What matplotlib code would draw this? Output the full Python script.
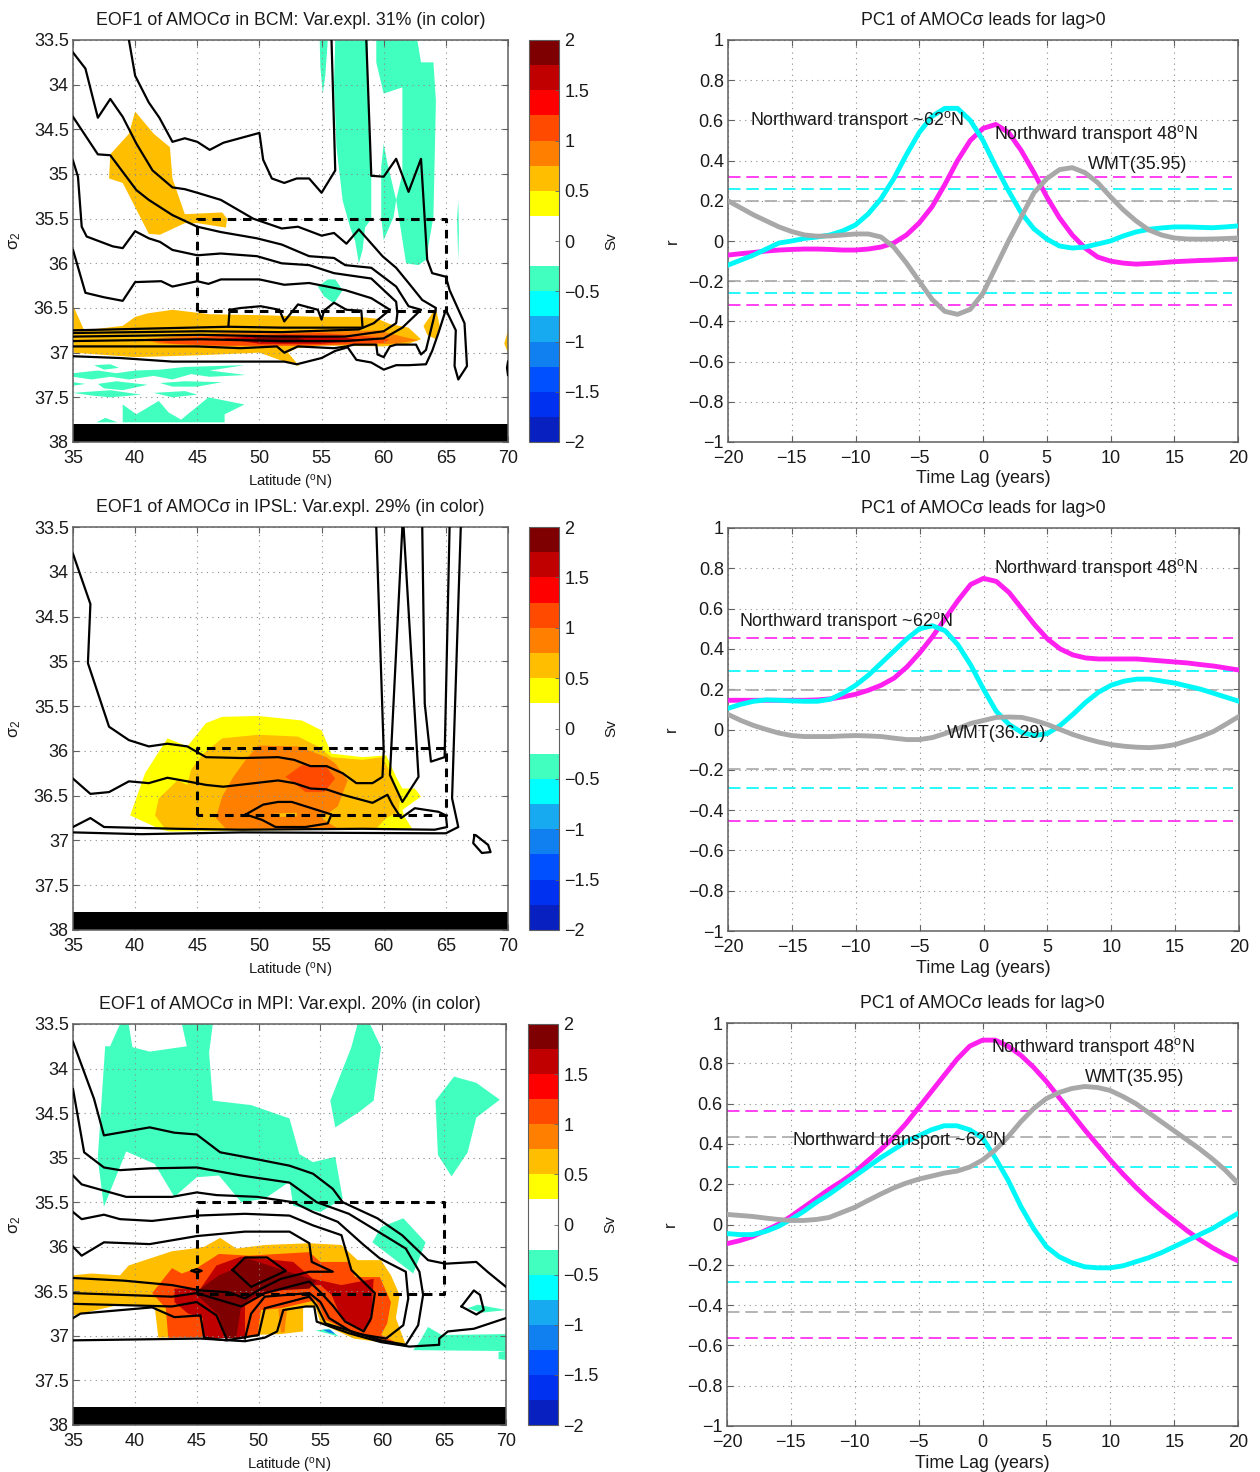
"""
EOF1 of AMOC in density space (left) and lagged correlations of PC1 (right)
"""

import matplotlib
matplotlib.use("Agg")
import matplotlib.pyplot as plt
from matplotlib.cm import ScalarMappable
from matplotlib.colors import BoundaryNorm, ListedColormap

plt.rcParams["font.family"] = ["Liberation Sans", "DejaVu Sans"]
plt.rcParams["mathtext.fontset"] = "custom"
plt.rcParams["mathtext.rm"] = "Liberation Sans"
plt.rcParams["mathtext.it"] = "Liberation Sans"
plt.rcParams["mathtext.default"] = "regular"

# colour levels (Sv)
LEVELS = [-2, -1.75, -1.5, -1.25, -1, -0.75, -0.5, -0.25, 0, 0.25, 0.5, 0.75, 1, 1.25, 1.5, 1.75, 2]
LEVEL_COLORS = ["#0820c0", "#0030f0", "#0050ff", "#1080f0", "#18aaf0", "#00ffff", "#40ffbf", "white",
                "white", "#ffff00", "#ffbf00", "#ff8000", "#ff4a00", "#ff0000", "#c00000", "#7f0000"]
CBAR_TICKS = [-2, -1.5, -1, -0.5, 0, 0.5, 1, 1.5, 2]
LAT_TICKS = [35, 40, 45, 50, 55, 60, 65, 70]
SIGMA_TICKS = [33.5, 34, 34.5, 35, 35.5, 36, 36.5, 37, 37.5, 38]
LAG_TICKS = [-20, -15, -10, -5, 0, 5, 10, 15, 20]
R_TICKS = [-1, -0.8, -0.6, -0.4, -0.2, 0, 0.2, 0.4, 0.6, 0.8, 1]
MASK_SIGMA = [37.8, 38]

# ---- BCM filled areas (lat, sigma)
bcm_orange1 = [(40, 34.3), (39.5, 34.55), (38, 34.78), (37.9, 35.05), (39, 35.1), (41.1, 35.67), (42, 35.68),
               (44, 35.55), (45, 35.55), (47.3, 35.6), (47.4, 35.5), (47, 35.43), (44, 35.45), (43, 35.05),
               (42.8, 34.7), (41.5, 34.55)]
bcm_orange2 = [(35, 36.47), (35.9, 36.75), (39, 36.7), (40, 36.6), (41, 36.56), (43, 36.52), (46, 36.57),
               (50, 36.58), (55, 36.6), (58, 36.6), (59.5, 36.62), (60.5, 36.68), (62, 36.72), (63, 36.85),
               (62, 36.9), (60, 36.93), (55, 36.92), (53, 36.95), (52.3, 37), (53.2, 37.15), (52, 37.1),
               (50, 37), (45, 37.03), (40, 37.05), (37, 37.02), (35, 37)]
bcm_orange3 = [(64.2, 36.5), (64.5, 36.7), (64.2, 36.85), (63.5, 36.8), (63.2, 36.7)]
bcm_orange4 = [(70, 36.75), (69.7, 36.9), (70, 37)]
bcm_dark1 = [(40.5, 36.85), (47, 36.78), (57, 36.76), (59.5, 36.75), (61.5, 36.82), (62.8, 36.86), (61, 36.9),
             (55, 36.92), (47, 36.93), (42, 36.9)]
bcm_dark2 = [(41, 36.86), (47, 36.81), (55, 36.78), (59, 36.82), (60.5, 36.85), (60, 36.89), (54, 36.92),
             (47, 36.92), (43, 36.9)]
bcm_dark3 = [(47, 36.84), (52, 36.8), (56, 36.82), (58.5, 36.86), (55, 36.9), (50, 36.9)]
bcm_dark4 = [(49.5, 36.83), (53, 36.83), (54, 36.87), (52, 36.89), (50, 36.87)]
bcm_green1 = [(54.85, 33.5), (55.5, 33.5), (55.3, 33.9), (55.1, 34.1), (54.9, 33.8)]
bcm_green2 = [(56.1, 33.5), (58.7, 33.5), (58.8, 34.5), (59, 35), (59, 35.5), (58.5, 35.6), (58.3, 35.85),
              (58, 36), (57.7, 35.75), (57.3, 35.6), (56.7, 35.3), (56.2, 34.7), (56, 34)]
bcm_green3 = [(59.4, 33.5), (62.7, 33.5), (63, 33.75), (64, 33.75), (64.2, 34.18), (64, 35.48), (63.4, 35.96),
              (62.8, 36.02), (61.8, 36), (61, 35.29), (60.8, 35.48), (60, 35.74), (59.8, 35.48), (59.8, 34.92),
              (60, 34.66), (60.3, 34.88), (61, 35.29), (61.5, 35), (61.5, 34.55), (61.5, 34.03), (60, 34.1),
              (59.4, 33.75)]
bcm_green4 = [(65.9, 35.5), (66, 35.3), (66.05, 35.65), (66, 35.97)]
bcm_green5 = [(54.7, 36.26), (55.5, 36.18), (56.1, 36.18), (56.7, 36.3), (56, 36.45), (55.2, 36.37)]
bcm_green6 = [(39, 37.78), (39, 37.58), (40.1, 37.69), (41.9, 37.54), (42.7, 37.67), (43.7, 37.75), (45.9, 37.5),
              (48.8, 37.58), (47.2, 37.69), (47.2, 37.78)]
bcm_green7 = [(36.9, 37.78), (37.6, 37.73), (38.6, 37.78)]
bcm_green8 = [(36.7, 37.14), (38, 37.13), (38.7, 37.17), (37.5, 37.19)]
bcm_green9 = [(35, 37.23), (37, 37.2), (38.5, 37.23), (40, 37.2), (42, 37.19), (44, 37.16), (48.8, 37.14),
              (46, 37.2), (48.9, 37.25), (46, 37.27), (44.5, 37.24), (43, 37.3), (41.5, 37.26), (39.5, 37.3),
              (38, 37.27), (36.5, 37.3), (35, 37.27)]
bcm_green10 = [(35, 37.33), (36, 37.35), (35, 37.37)]
bcm_green11 = [(37, 37.35), (38.5, 37.32), (41, 37.36), (39, 37.42), (37.5, 37.4)]
bcm_green12 = [(42, 37.34), (44, 37.32), (47, 37.33), (45, 37.38), (43, 37.38)]
bcm_green13 = [(35, 37.45), (38, 37.42), (40.5, 37.47), (38, 37.5), (36.5, 37.48)]
bcm_green14 = [(41.5, 37.45), (44, 37.43), (45, 37.47), (43, 37.5)]

# ---- BCM contour lines
bcm_line1 = [(39.5, 33.5), (40, 33.9), (41.1, 34.2), (41.95, 34.37), (43, 34.64), (44, 34.6), (45, 34.64), (46, 34.73),
             (47.1, 34.65), (50, 34.54), (50.3, 34.84), (51, 35.05), (52, 35.1), (53, 35.05), (54, 35.05), (55, 35.21),
             (56.1, 34.96), (55.8, 33.5)]
bcm_line2 = [(58.6, 33.5), (59, 35.02), (60, 35.03), (61, 34.83), (62, 35.2), (63, 34.83), (63.5, 35.96), (63.9, 36.11),
             (65, 36.15), (65.3, 36.3), (66.5, 36.67), (66.7, 37.15), (66, 37.3), (65.7, 37.15), (65.8, 36.75), (65, 36.52),
             (64.4, 36.78), (63.9, 36.98), (63.4, 37.13), (62, 37.14), (61, 37.14), (60, 37.19), (59, 37.11), (57.8, 37.08),
             (57.1, 36.94), (56.1, 36.98), (55, 37.06), (53, 37.13), (52, 37.1), (48.5, 37.1), (43, 37.1), (38.8, 37.06),
             (35, 37.04)]
bcm_line3 = [(35, 33.64), (36, 33.82), (37, 34.37), (38, 34.16), (39, 34.36), (40.1, 34.66), (41.4, 34.96), (43, 35.15),
             (44, 35.17), (45, 35.21), (46.9, 35.29), (49.5, 35.5), (51.8, 35.61), (53.1, 35.59), (55, 35.69), (56, 35.66),
             (57, 35.78), (58, 35.62), (59.9, 35.92), (61, 36.05), (62, 36.22), (63.1, 36.41), (64.2, 36.5), (64, 36.63),
             (63.4, 36.97), (63, 37.02), (62.6, 36.91), (61, 36.91), (60.5, 36.93), (60, 37.05), (59.5, 37.02), (59.4, 36.91),
             (57.6, 36.91), (57, 36.93), (56, 36.95), (53.1, 36.93), (52, 37), (51.4, 36.93), (48.5, 36.95), (45, 36.93),
             (35, 36.93)]
bcm_line4 = [(35, 34.36), (37, 34.78), (38, 34.79), (40.1, 35.18), (41.1, 35.29), (43, 35.46), (45, 35.59), (46.9, 35.65),
             (49.8, 35.72), (51.8, 35.79), (54, 35.92), (56, 35.94), (56.9, 36.02), (59, 36.05), (61, 36.26), (62, 36.48),
             (63, 36.52), (61.5, 36.72), (60, 36.84), (56.9, 36.87), (51.8, 36.87), (45.3, 36.85), (35, 36.87)]
bcm_line5 = [(35, 34.85), (35.4, 35.03), (35.7, 35.59), (36.1, 35.7), (38.2, 35.81), (39, 35.83), (40, 35.64), (41.1, 35.72),
             (42, 35.76), (43, 35.85), (45, 35.91), (46.9, 35.89), (49.8, 35.92), (51.8, 36), (54, 36.02), (56, 36.11),
             (59, 36.17), (61, 36.43), (61.1, 36.56), (61, 36.67), (60, 36.76), (56.9, 36.82), (51.8, 36.82), (45.3, 36.8),
             (35, 36.82)]
bcm_line6 = [(35, 35.85), (36, 36.33), (37.5, 36.38), (39, 36.42), (40, 36.21), (42.1, 36.2), (43, 36.26), (45, 36.2),
             (45.9, 36.23), (46.9, 36.18), (50, 36.18), (52, 36.24), (54, 36.22), (56.9, 36.3), (59, 36.39), (60.5, 36.52),
             (59.2, 36.67), (58, 36.74), (51.8, 36.77), (45.3, 36.76), (35, 36.78)]
bcm_line7 = [(47.6, 36.52), (47.5, 36.71), (51.8, 36.72), (58.3, 36.72), (58.2, 36.53), (57, 36.52), (56, 36.44), (55.2, 36.53),
             (55, 36.63), (54.7, 36.52), (53.1, 36.46), (52, 36.65), (51.6, 36.52), (50.1, 36.48), (48.5, 36.5), (47.6, 36.52)]
bcm_line8 = [(35, 36.75), (47.5, 36.71)]
bcm_line9 = [(70, 37.1), (69.92, 37.17), (70, 37.25)]

# ---- IPSL filled areas
ipsl_yellow = [(39.6, 36.72), (40.8, 36.25), (42.6, 35.86), (44.2, 35.95), (45.7, 35.69), (47, 35.62), (49.9, 35.61),
               (53.4, 35.66), (55, 35.77), (55.8, 36.03), (58.3, 36.07), (60.2, 36.05), (61, 36.29), (61.5, 36.42),
               (62.5, 36.42), (63, 36.51), (61.5, 36.66), (61.7, 36.74), (62.3, 36.87), (42.8, 36.9), (42.1, 36.88)]
ipsl_orange = [(41.6, 36.72), (41.9, 36.53), (43.4, 36.33), (44.2, 36.38), (44.5, 36.21), (45.5, 36.03), (47, 35.86),
               (49.9, 35.82), (53.1, 35.84), (54.7, 35.95), (55.8, 36.07), (58.3, 36.1), (59.9, 36.07), (60.7, 36.29),
               (61, 36.42), (61.3, 36.55), (61.2, 36.68), (60.2, 36.75), (59.4, 36.87), (42.4, 36.87)]
ipsl_dark = [(46.5, 36.75), (47, 36.51), (47.9, 36.29), (48.9, 36.1), (49.9, 35.94), (53.1, 35.95), (55.4, 36.07),
             (56.1, 36.14), (57.1, 36.33), (56.3, 36.62), (55, 36.75), (56.3, 36.87), (47.3, 36.87)]
ipsl_patch = [(51.2, 36.7), (53, 36.69), (53, 36.73), (51.2, 36.74)]
ipsl_red = [(52.1, 36.29), (53.4, 36.16), (55.4, 36.18), (56.1, 36.31), (55.2, 36.46), (53.7, 36.46), (52.8, 36.36)]

# ---- IPSL contour lines
ipsl_line1 = [(35, 33.8), (36.4, 34.36), (36.2, 35.02), (37.9, 35.73), (39.5, 35.88), (41.1, 35.95), (42.6, 35.92), (44.2, 35.95),
              (45.7, 36.07), (48.6, 36.08), (51.5, 36.07), (52.8, 36.1), (54.1, 36.17), (55.4, 36.17), (56.7, 36.25), (57.8, 36.36),
              (59.1, 36.36), (59.9, 36.29), (60, 36), (59.4, 33.5)]
ipsl_line2 = [(35, 36.31), (36.4, 36.48), (37.9, 36.46), (39.5, 36.34), (41.1, 36.36), (42.6, 36.3), (44.2, 36.34), (45.7, 36.38),
              (47.1, 36.4), (51.5, 36.33), (52.8, 36.36), (54.1, 36.42), (55.4, 36.43), (56.7, 36.49), (59.1, 36.58), (60.3, 36.49),
              (60.7, 36.6), (61.4, 36.75), (62.5, 36.64), (64.4, 36.68), (65, 36.72), (65.1, 36.85), (64.1, 36.88), (58.3, 36.87),
              (48.6, 36.88), (43.4, 36.87), (37.5, 36.85), (36.4, 36.75), (35, 36.85)]
ipsl_line3 = [(35, 36.91), (40.5, 36.93), (48.6, 36.91), (64.1, 36.92), (65, 36.92), (66, 36.85), (65.5, 36.53), (66.2, 33.5)]
ipsl_line4 = [(61.5, 33.5), (60.5, 36.27), (61.5, 36.57), (62.8, 36.29), (61.6, 33.5)]
ipsl_line5 = [(63.1, 33.5), (63.3, 35.47), (63.8, 36.12), (64.9, 36.07), (65.3, 33.5)]
ipsl_line6 = [(48.9, 36.71), (50.3, 36.6), (51.5, 36.57), (52.6, 36.57), (55.8, 36.71), (55.5, 36.81), (53.7, 36.85), (51.3, 36.85),
              (50.2, 36.77), (48.9, 36.71)]
ipsl_line7 = [(67.3, 36.94), (67.2, 37.03), (67.9, 37.14), (68.6, 37.13), (68.4, 37.05), (67.4, 36.94), (67.3, 36.94)]

# ---- MPI filled areas
mpi_green1 = [(37.6, 33.75), (38, 33.75), (38.8, 33.5), (39.5, 33.5), (39.8, 33.76), (41.2, 33.81), (44.2, 33.75), (43.8, 33.5),
              (46.3, 33.5), (46, 33.82), (46.3, 34.36), (49.4, 34.41), (52.5, 34.56), (53.3, 34.96), (54.4, 35.05), (56.2, 34.99),
              (56.8, 35.46), (55, 35.61), (52.8, 35.54), (52.5, 35.27), (50.5, 35.46), (48.6, 35.5), (46.8, 35.2), (45, 35.22),
              (43.2, 35.44), (41.6, 35.07), (39.3, 34.93), (37.5, 35.55), (37, 35.01)]
mpi_green2 = [(58, 33.5), (59, 33.5), (59.9, 33.76), (59.3, 34.36), (58.1, 34.49), (56.2, 34.66), (55.8, 34.36), (57.5, 33.76)]
mpi_green3 = [(65.8, 34.09), (67.6, 34.16), (69.5, 34.35), (67.6, 34.55), (66.9, 34.94), (65.6, 35.21), (64.5, 34.97), (64.3, 34.36)]
mpi_green4 = [(61.7, 35.68), (63.5, 35.95), (62.5, 36.3), (60.9, 36.13), (59.2, 35.95), (59.9, 35.78)]
mpi_green5 = [(63.7, 36.9), (64.8, 36.99), (70, 36.98), (70, 37.17), (62.5, 37.16), (63, 37.07)]
mpi_green6 = [(69.4, 37.18), (70, 37.17), (70, 37.27), (69.4, 37.26)]
mpi_green7 = [(66.9, 36.69), (67.7, 36.65), (70, 36.71), (68, 36.74)]
mpi_green8 = [(54.6, 36.94), (55.7, 36.92), (56.5, 37.01), (55.5, 36.97)]
mpi_blue = [(55.2, 36.93), (55.8, 36.93), (56.2, 36.98), (55.6, 36.96)]
mpi_orange = [(35, 36.32), (36.5, 36.3), (38.8, 36.32), (39.5, 36.21), (43, 36.05), (44.7, 36.02), (45.6, 36), (46.9, 35.9),
              (48.2, 36.02), (50.5, 35.98), (54.1, 35.96), (56.7, 35.98), (58, 36.15), (59.9, 36.15), (60.7, 36.32), (61.4, 36.54),
              (61.1, 36.8), (61.6, 36.99), (61.9, 37.1), (60.3, 37.08), (57.7, 37.03), (55, 36.86), (54.6, 36.67), (53.6, 36.67),
              (53.6, 36.95), (51.8, 36.98), (41.9, 37.02), (41.6, 36.67), (38.8, 36.65), (35, 36.77)]
mpi_red1 = [(41.4, 36.52), (43, 36.24), (43.8, 36.3), (45, 36.24), (46.8, 36.08), (49.2, 36.1), (54.1, 36.06), (55, 36.17),
            (57.3, 36.17), (57.8, 36.34), (59.8, 36.34), (60.7, 36.62), (60.4, 36.86), (59.9, 36.99), (61.2, 37.08), (57.7, 36.97),
            (55.4, 36.82), (54.9, 36.67), (54.6, 36.6), (51.8, 36.69), (50.2, 36.71), (49.9, 37.01), (42.7, 37.02), (42.5, 36.69)]
mpi_red2 = [(43.2, 36.47), (45.3, 36.47), (46.6, 36.21), (48.6, 36.11), (52.8, 36.17), (54.4, 36.36), (56.7, 36.43), (59.3, 36.36),
            (59.1, 36.84), (58.5, 36.95), (56.7, 36.8), (55.9, 36.54), (55, 36.43), (53.8, 36.43), (50.2, 36.54), (48.9, 36.66),
            (48.9, 37.03), (45.5, 37.02), (45.5, 36.8), (44.3, 36.75), (43.2, 36.62)]
mpi_red3 = [(45, 36.5), (46.8, 36.32), (48.2, 36.24), (48.9, 36.12), (51.5, 36.24), (54.7, 36.38), (54.1, 36.47), (50.2, 36.5),
            (48.6, 36.66), (48.2, 37.02), (47.3, 37.03), (46.8, 36.77), (45, 36.54)]
mpi_sliver = [(51.6, 36.7), (52.3, 36.7), (52.1, 36.96), (51.8, 36.96)]

# ---- MPI contour lines
mpi_line1 = [(35, 33.7), (36.7, 34.34), (37.5, 34.75), (41.2, 34.66), (43.2, 34.72), (45, 34.74), (46.9, 34.94), (49.2, 35), (52.5, 35.09),
             (54.4, 35.18), (56, 35.35), (56.8, 35.5), (59.6, 35.68), (61.6, 35.87), (63.7, 36.15), (65.1, 36.19), (67.6, 36.17), (68.5, 36.28),
             (70, 36.45)]
mpi_line2 = [(35, 34.23), (35.9, 34.94), (37.5, 35.11), (38.8, 35.14), (41.2, 35.12), (45, 35.11), (48.6, 35.2), (52.5, 35.28), (54.7, 35.5),
             (57.3, 35.63), (59.9, 35.85), (61.9, 36.02), (63, 36.28), (63.3, 36.54), (62.9, 36.88), (61.9, 37.1), (59.9, 37.05), (55.4, 36.86),
             (54.7, 36.66), (54.1, 36.56), (50.5, 36.69), (50, 36.99), (47.4, 37.05), (45.6, 37.02), (45.3, 36.77), (43.2, 36.79), (41.4, 36.68),
             (35.6, 36.75), (35, 36.8)]
mpi_line3 = [(35, 35.2), (35.7, 35.3), (39.3, 35.44), (43, 35.44), (45, 35.39), (46.6, 35.42), (49.9, 35.44), (52.8, 35.5), (54.4, 35.61),
             (56.4, 35.72), (58.5, 35.98), (59.8, 36.13), (61.9, 36.28), (62.1, 36.58), (61.7, 36.88), (60.3, 37.03), (57.7, 36.97), (55.7, 36.8),
             (55, 36.62), (54.1, 36.52), (50.5, 36.56), (49.4, 36.75), (48.9, 37.03)]
mpi_line4 = [(35, 35.61), (35.7, 35.69), (37.5, 35.64), (38.8, 35.69), (41.4, 35.71), (45, 35.65), (48.9, 35.63), (52.5, 35.65), (54.4, 35.76),
             (56.7, 35.87), (57.5, 36.26), (59.4, 36.52), (59.1, 36.8), (58.5, 36.95), (57, 36.84), (56, 36.66), (55, 36.51), (54.1, 36.39),
             (50.5, 36.52), (48.6, 36.67), (45, 36.52), (43, 36.56), (35, 36.52)]
mpi_line5 = [(35, 36), (35.7, 36.1), (37.5, 35.95), (41.2, 35.97), (45, 35.88), (48.9, 35.83), (52.5, 35.83), (54.1, 35.96), (54.3, 36.17),
             (56, 36.28), (54.1, 36.28), (51.8, 36.36), (50.2, 36.47), (48.9, 36.58), (47.6, 36.51), (45.3, 36.49), (43, 36.43), (39.1, 36.38),
             (35, 36.35)]
mpi_line6 = [(35, 36.64), (43, 36.67), (45, 36.62), (46.6, 36.77), (47.4, 37.03)]
mpi_line7 = [(70, 36.8), (67.4, 36.92), (65.3, 36.95), (64.6, 37.03), (64.6, 37.1), (62.2, 37.12), (59.9, 37.07), (57.3, 36.97), (54.7, 36.84),
             (54.5, 36.67), (53.8, 36.67), (52, 36.71), (51.5, 36.95), (50.5, 37.02), (48.9, 37.06), (45.3, 37.03), (35, 37.05)]
mpi_line8 = [(47.9, 36.26), (48.9, 36.12), (50.7, 36.12), (52.2, 36.27), (49.4, 36.45), (47.9, 36.26)]
mpi_line9 = [(66.4, 36.67), (67.4, 36.49), (67.9, 36.54), (68.2, 36.71), (67.6, 36.76), (66.4, 36.67)]
mpi_line10 = [(44.6, 36.27), (45, 36.25), (45.4, 36.27), (45, 36.29), (44.6, 36.27)]

# dashed boxes (lat_min, lat_max, sigma_min, sigma_max)
bcm_box = [45, 65, 35.5, 36.53]
ipsl_box = [45, 65, 35.97, 36.72]
mpi_box = [45, 65, 35.5, 36.53]

# ---- lagged correlations, one value per year of lag
LAGS = list(range(-20, 21))
bcm_m = [-0.07, -0.063, -0.057, -0.05, -0.045, -0.042, -0.04, -0.04, -0.042, -0.045, -0.045, -0.04, -0.03, -0.01, 0.03, 0.09, 0.17,
         0.28, 0.4, 0.5, 0.56, 0.58, 0.54, 0.45, 0.34, 0.22, 0.115, 0.03, -0.035, -0.08, -0.1, -0.11, -0.115, -0.112, -0.108, -0.103,
         -0.1, -0.097, -0.095, -0.092, -0.09]
bcm_c = [-0.12, -0.095, -0.07, -0.04, -0.01, 0, 0.013, 0.02, 0.03, 0.05, 0.08, 0.135, 0.21, 0.31, 0.43, 0.54, 0.62, 0.66, 0.66, 0.6,
         0.5, 0.37, 0.25, 0.14, 0.06, 0.01, -0.025, -0.035, -0.03, -0.015, 0, 0.025, 0.045, 0.058, 0.065, 0.07, 0.07, 0.068, 0.066,
         0.07, 0.075]
bcm_g = [0.2, 0.165, 0.13, 0.1, 0.07, 0.047, 0.03, 0.024, 0.025, 0.03, 0.035, 0.035, 0.02, -0.03, -0.11, -0.2, -0.29, -0.35, -0.365,
         -0.34, -0.26, -0.13, 0, 0.12, 0.24, 0.31, 0.355, 0.365, 0.34, 0.29, 0.22, 0.155, 0.1, 0.055, 0.03, 0.015, 0.01, 0.009, 0.01,
         0.012, 0.015]
bcm_sig = [0.32, 0.26, 0.2]

ipsl_m = [0.145, 0.145, 0.145, 0.145, 0.145, 0.145, 0.145, 0.147, 0.152, 0.162, 0.175, 0.195, 0.22, 0.255, 0.31, 0.38, 0.46, 0.55, 0.64,
          0.72, 0.75, 0.735, 0.68, 0.6, 0.52, 0.45, 0.4, 0.37, 0.355, 0.35, 0.35, 0.35, 0.35, 0.345, 0.34, 0.335, 0.33, 0.322, 0.315,
          0.305, 0.295]
ipsl_c = [0.105, 0.125, 0.14, 0.147, 0.145, 0.142, 0.14, 0.14, 0.15, 0.18, 0.22, 0.27, 0.33, 0.39, 0.45, 0.5, 0.515, 0.49, 0.42, 0.32,
          0.2, 0.09, 0.025, -0.015, -0.03, -0.02, 0.02, 0.075, 0.135, 0.185, 0.22, 0.24, 0.25, 0.25, 0.24, 0.23, 0.215, 0.2, 0.18, 0.16,
          0.14]
ipsl_g = [0.075, 0.045, 0.02, 0, -0.018, -0.03, -0.035, -0.035, -0.035, -0.032, -0.03, -0.032, -0.035, -0.043, -0.05, -0.05, -0.04,
          -0.02, 0.005, 0.03, 0.045, 0.06, 0.062, 0.06, 0.045, 0.025, 0, -0.025, -0.045, -0.062, -0.075, -0.083, -0.088, -0.09, -0.085,
          -0.075, -0.055, -0.035, -0.01, 0.027, 0.065]
ipsl_sig = [0.455, 0.29, 0.195]

mpi_m = [-0.095, -0.08, -0.06, -0.03, 0, 0.04, 0.085, 0.13, 0.175, 0.215, 0.26, 0.315, 0.37, 0.43, 0.5, 0.58, 0.66, 0.74, 0.82, 0.885,
         0.915, 0.915, 0.885, 0.84, 0.78, 0.71, 0.63, 0.55, 0.47, 0.395, 0.32, 0.25, 0.185, 0.125, 0.07, 0.02, -0.03, -0.075, -0.115,
         -0.15, -0.18]
mpi_c = [-0.045, -0.05, -0.05, -0.035, -0.01, 0.025, 0.065, 0.11, 0.15, 0.195, 0.24, 0.285, 0.33, 0.37, 0.41, 0.44, 0.47, 0.49, 0.49,
         0.47, 0.43, 0.33, 0.22, 0.09, -0.02, -0.11, -0.16, -0.19, -0.21, -0.215, -0.215, -0.205, -0.185, -0.165, -0.14, -0.11, -0.08,
         -0.05, -0.02, 0.018, 0.055]
mpi_g = [0.05, 0.045, 0.04, 0.032, 0.025, 0.02, 0.02, 0.025, 0.035, 0.06, 0.085, 0.118, 0.15, 0.18, 0.205, 0.225, 0.24, 0.255, 0.265,
         0.285, 0.32, 0.37, 0.435, 0.51, 0.575, 0.625, 0.655, 0.675, 0.685, 0.68, 0.665, 0.635, 0.6, 0.555, 0.51, 0.465, 0.42, 0.375,
         0.325, 0.27, 0.205]
mpi_sig = [0.565, 0.285, 0.435]

O_N = "$^{o}$N"
TEXT_COLOR = "#1a1a1a"
FRAME_COLOR = "#606060"
GRID_COLOR = "#8c8c8c"
MAGENTA = "#ff20f0"
CYAN = "#00f8f8"
GRAY = "#a8a8a8"

W, H = 1260, 1472
fig = plt.figure(figsize=(W / 100, H / 100), dpi=100)
cmap = ListedColormap(LEVEL_COLORS)
norm = BoundaryNorm(LEVELS, cmap.N)


def make_axes(left, top, right, bottom):
    return fig.add_axes([left / W, 1 - bottom / H, (right - left) / W, (bottom - top) / H])


def style_axes(ax):
    for s in ax.spines.values():
        s.set_color(FRAME_COLOR)
        s.set_linewidth(1.1)
    ax.tick_params(direction="in", length=4, width=0.8, color=FRAME_COLOR, top=True, right=True,
                   labelsize=13, labelcolor=TEXT_COLOR)
    ax.tick_params(axis="x", pad=5.5)
    ax.tick_params(axis="y", pad=3)
    ax.grid(True, linestyle=(0, (1, 4)), linewidth=0.8, color=GRID_COLOR)
    ax.set_axisbelow("line")


def num(v):
    return "{:g}".format(v).replace("-", "\u2212")


def field_panel(box, cbox, title, fills, lines, dash_box):
    ax = make_axes(*box)
    for value, poly in fills:
        lats, sigs = zip(*poly)
        ax.fill(lats, sigs, color=cmap(norm(value)), linewidth=0, zorder=1)
    ax.axhspan(MASK_SIGMA[0], MASK_SIGMA[1], color="black", linewidth=0, zorder=1.6)
    for line in lines:
        lats, sigs = zip(*line)
        ax.plot(lats, sigs, color="black", linewidth=1.6, solid_joinstyle="round", zorder=3)
    x0, x1, y0, y1 = dash_box
    ax.plot([x0, x0, x1, x1, x0], [y1, y0, y0, y1, y1], color="black", linewidth=2.2,
            linestyle=(0, (2.8, 2.2)), zorder=4)
    ax.set_xlim(35, 70)
    ax.set_ylim(38, 33.5)
    ax.set_xticks(LAT_TICKS)
    ax.set_xticklabels([num(v) for v in LAT_TICKS])
    ax.set_yticks(SIGMA_TICKS)
    ax.set_yticklabels([num(v) for v in SIGMA_TICKS])
    style_axes(ax)
    ax.set_title(title, fontsize=12.8, color=TEXT_COLOR, pad=10.5)
    ax.set_xlabel("Latitude (" + O_N + ")", fontsize=10.6, color=TEXT_COLOR, va="center")
    ax.xaxis.set_label_coords(0.5, -0.1)
    ax.set_ylabel("\u03c3$_{2}$", fontsize=12, color=TEXT_COLOR, va="center")
    ax.yaxis.set_label_coords(-0.133, 0.5)

    cax = make_axes(*cbox)
    cb = fig.colorbar(ScalarMappable(norm=norm, cmap=cmap), cax=cax, ticks=CBAR_TICKS, spacing="proportional")
    cb.ax.set_yticklabels([num(v) for v in CBAR_TICKS])
    cb.ax.tick_params(direction="in", length=3, width=0.6, color=FRAME_COLOR, labelsize=13,
                      labelcolor=TEXT_COLOR, pad=4)
    cb.ax.minorticks_off()
    cb.outline.set_edgecolor(FRAME_COLOR)
    cb.outline.set_linewidth(0.8)
    cb.set_label("Sv", fontsize=11, color=TEXT_COLOR, rotation=90)
    cb.ax.yaxis.set_label_coords(2.73, 0.5)
    cb.ax.yaxis.label.set_va("center")


def lag_panel(box, m, c, g, sig, labels):
    ax = make_axes(*box)
    for level, col in zip(sig, [MAGENTA, CYAN, GRAY]):
        for s in (1, -1):
            ax.plot([-20, 19.5], [s * level, s * level], color=col, linewidth=1.2,
                    linestyle=(0, (7.5, 3.5)), zorder=2)
    ax.plot(LAGS, m, color=MAGENTA, linewidth=3.5, zorder=3)
    ax.plot(LAGS, c, color=CYAN, linewidth=3.5, zorder=3)
    ax.plot(LAGS, g, color=GRAY, linewidth=3.5, zorder=3)
    for x, y, s in labels:
        ax.text(x, y, s, fontsize=12.9, color=TEXT_COLOR, va="center", ha="left", zorder=5)
    ax.set_xlim(-20, 20)
    ax.set_ylim(-1, 1)
    ax.set_xticks(LAG_TICKS)
    ax.set_xticklabels([num(v) for v in LAG_TICKS])
    ax.set_yticks(R_TICKS)
    ax.set_yticklabels([num(v) for v in R_TICKS])
    style_axes(ax)
    ax.set_title("PC1 of AMOC\u03c3 leads for lag>0", fontsize=12.8, color=TEXT_COLOR, pad=10.5)
    ax.set_xlabel("Time Lag (years)", fontsize=12.9, color=TEXT_COLOR, va="center")
    ax.xaxis.set_label_coords(0.5, -0.092)
    ax.set_ylabel("r", fontsize=12, color=TEXT_COLOR, va="center")
    ax.yaxis.set_label_coords(-0.11, 0.5)


field_panel((73, 40, 508, 442), (529, 40, 559, 442), "EOF1 of AMOC\u03c3 in BCM: Var.expl. 31% (in color)",
            [(0.6, bcm_orange1), (0.6, bcm_orange2), (0.6, bcm_orange3), (0.6, bcm_orange4),
             (0.85, bcm_dark1), (1.1, bcm_dark2), (1.6, bcm_dark3), (1.9, bcm_dark4),
             (-0.4, bcm_green1), (-0.4, bcm_green2), (-0.4, bcm_green3), (-0.4, bcm_green4), (-0.4, bcm_green5),
             (-0.4, bcm_green6), (-0.4, bcm_green7), (-0.4, bcm_green8), (-0.4, bcm_green9), (-0.4, bcm_green10),
             (-0.4, bcm_green11), (-0.4, bcm_green12), (-0.4, bcm_green13), (-0.4, bcm_green14)],
            [bcm_line1, bcm_line2, bcm_line3, bcm_line4, bcm_line5, bcm_line6, bcm_line7, bcm_line8, bcm_line9],
            bcm_box)

field_panel((73, 527, 508, 930), (529, 527, 559, 930), "EOF1 of AMOC\u03c3 in IPSL: Var.expl. 29% (in color)",
            [(0.4, ipsl_yellow), (0.6, ipsl_orange), (0.85, ipsl_dark), (0.6, ipsl_patch), (1.1, ipsl_red)],
            [ipsl_line1, ipsl_line2, ipsl_line3, ipsl_line4, ipsl_line5, ipsl_line6, ipsl_line7],
            ipsl_box)

field_panel((73, 1024, 506, 1425), (528, 1024, 558, 1425), "EOF1 of AMOC\u03c3 in MPI: Var.expl. 20% (in color)",
            [(-0.4, mpi_green1), (-0.4, mpi_green2), (-0.4, mpi_green3), (-0.4, mpi_green4), (-0.4, mpi_green5),
             (-0.4, mpi_green6), (-0.4, mpi_green7), (-0.4, mpi_green8), (-1.1, mpi_blue),
             (0.6, mpi_orange), (1.1, mpi_red1), (1.6, mpi_red2), (1.9, mpi_red3), (0.85, mpi_sliver)],
            [mpi_line1, mpi_line2, mpi_line3, mpi_line4, mpi_line5, mpi_line6, mpi_line7, mpi_line8, mpi_line9, mpi_line10],
            mpi_box)

lag_panel((728, 40, 1238, 442), bcm_m, bcm_c, bcm_g, bcm_sig,
          [(-18.3, 0.6, "Northward transport ~62" + O_N), (0.9, 0.53, "Northward transport 48" + O_N), (8.2, 0.38, "WMT(35.95)")])
lag_panel((728, 528, 1239, 931), ipsl_m, ipsl_c, ipsl_g, ipsl_sig,
          [(-19.1, 0.54, "Northward transport ~62" + O_N), (0.8, 0.8, "Northward transport 48" + O_N), (-2.9, -0.02, "WMT(36.29)")])
lag_panel((727, 1023, 1238, 1426), mpi_m, mpi_c, mpi_g, mpi_sig,
          [(-14.9, 0.42, "Northward transport ~62" + O_N), (0.7, 0.88, "Northward transport 48" + O_N), (8, 0.73, "WMT(35.95)")])

plt.savefig("out.png", dpi=100)
